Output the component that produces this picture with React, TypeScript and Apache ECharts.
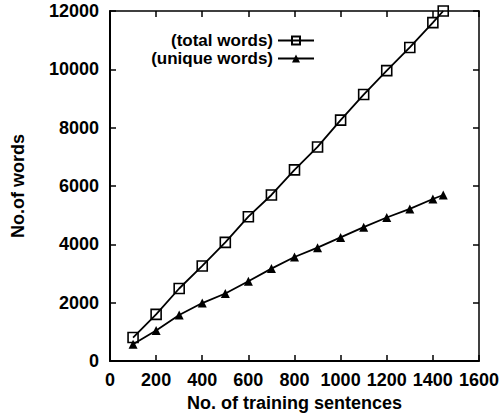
import React, { useEffect, useRef } from "react";
import * as echarts from "echarts";

const sentences = [100, 200, 300, 400, 500, 600, 700, 800, 900, 1000, 1100, 1200, 1300, 1400, 1445];
const totalWords = [808, 1602, 2489, 3262, 4068, 4950, 5694, 6556, 7341, 8261, 9137, 9955, 10750, 11602, 12000];
const uniqueWords = [580, 1046, 1579, 1989, 2318, 2738, 3171, 3568, 3887, 4239, 4592, 4921, 5216, 5557, 5694];
const seriesNames = ["(total words)", "(unique words)"];
const xTitle = "No. of training sentences";
const yTitle = "No.of words";

export default function App() {
  const ref = useRef<HTMLDivElement>(null);
  useEffect(() => {
    const chart = echarts.init(ref.current!, null, { renderer: "svg" });
    const font = "Liberation Sans, Arial, sans-serif";
    const tickStyle = { show: true, inside: true, length: 6, lineStyle: { color: "#000", width: 1.5 } };
    const plain = (v: number) => String(v);
    chart.setOption({
      animation: false,
      backgroundColor: "#fff",
      textStyle: { fontFamily: font },
      grid: { left: 110, right: 20, top: 11, bottom: 54 },
      legend: {
        orient: "vertical",
        align: "right",
        right: 182,
        top: 27,
        itemWidth: 36,
        itemHeight: 10,
        itemGap: 1,
        textStyle: { fontFamily: font, fontSize: 17, fontWeight: "bold", color: "#000" },
        data: seriesNames,
      },
      xAxis: [
        {
          type: "value",
          min: 0,
          max: 1600,
          interval: 200,
          position: "bottom",
          name: xTitle,
          nameLocation: "middle",
          nameGap: 28,
          nameTextStyle: { fontFamily: font, fontSize: 18, fontWeight: "bold", color: "#000" },
          axisLine: { onZero: false, lineStyle: { color: "#000", width: 2 } },
          axisTick: tickStyle,
          axisLabel: { fontFamily: font, fontSize: 18, fontWeight: "bold", color: "#000", margin: 10, formatter: plain },
          splitLine: { show: false },
        },
        {
          type: "value",
          min: 0,
          max: 1600,
          interval: 200,
          position: "top",
          axisLine: { show: true, onZero: false, lineStyle: { color: "#000", width: 1.5 } },
          axisTick: tickStyle,
          axisLabel: { show: false },
          splitLine: { show: false },
        },
      ],
      yAxis: [
        {
          type: "value",
          min: 0,
          max: 12000,
          interval: 2000,
          position: "left",
          name: yTitle,
          nameLocation: "middle",
          nameGap: 83,
          nameRotate: 90,
          nameTextStyle: { fontFamily: font, fontSize: 18, fontWeight: "bold", color: "#000" },
          axisLine: { show: true, onZero: false, lineStyle: { color: "#000", width: 2 } },
          axisTick: tickStyle,
          axisLabel: { fontFamily: font, fontSize: 18, fontWeight: "bold", color: "#000", margin: 11, formatter: plain },
          splitLine: { show: false },
        },
        {
          type: "value",
          min: 0,
          max: 12000,
          interval: 2000,
          position: "right",
          axisLine: { show: true, onZero: false, lineStyle: { color: "#000", width: 1.5 } },
          axisTick: tickStyle,
          axisLabel: { show: false },
          splitLine: { show: false },
        },
      ],
      series: [
        {
          name: seriesNames[0],
          type: "line",
          data: sentences.map((s, i) => [s, totalWords[i]]),
          symbol: "rect",
          symbolSize: 10,
          itemStyle: { color: "rgba(255,255,255,0)", borderColor: "#000", borderWidth: 1.6 },
          lineStyle: { color: "#000", width: 1.8 },
        },
        {
          name: seriesNames[1],
          type: "line",
          data: sentences.map((s, i) => [s, uniqueWords[i]]),
          symbol: "triangle",
          symbolSize: 9,
          itemStyle: { color: "#000" },
          lineStyle: { color: "#000", width: 1.8 },
        },
      ],
    });
    return () => chart.dispose();
  }, []);
  return <div ref={ref} style={{ position: "fixed", left: 0, top: 0, width: 502, height: 417 }} />;
}
